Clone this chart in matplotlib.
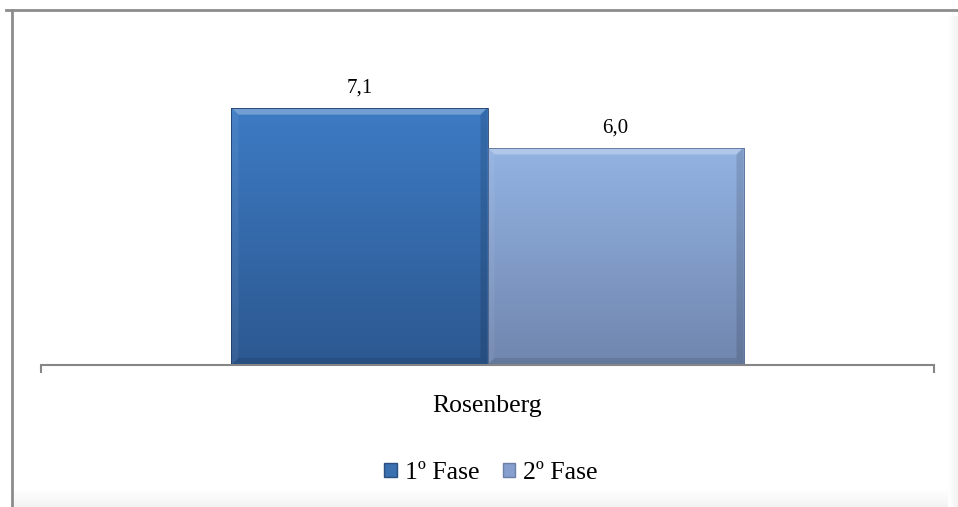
import matplotlib.pyplot as plt
import numpy as np
from matplotlib.patches import Rectangle, Polygon, Patch
from matplotlib.lines import Line2D
from matplotlib.colors import LinearSegmentedColormap

# dados
categoria = "Rosenberg"
fases = ["1º Fase", "2º Fase"]
valores = [7.1, 6.0]
rotulos = ["7,1", "6,0"]

# cores (topo, base) do gradiente de cada série
cores_topo = ["#3d7bc4", "#93b3e3"]
cores_base = ["#2c5890", "#7086ae"]
cores_legenda = ["#3a6fb0", "#859fcf"]

plt.rcParams['font.family'] = ['Liberation Serif', 'DejaVu Serif']

W, H = 958, 507
fig = plt.figure(figsize=(W / 100, H / 100), dpi=100)
fig.patch.set_facecolor("white")

# sombra à direita e em baixo: cinza com transparência crescente para a borda
ax_bg = fig.add_axes([0, 0, 1, 1], zorder=-1)
ax_bg.axis("off")
ax_bg.set_xlim(0, W)
ax_bg.set_ylim(H, 0)
alfa = np.linspace(0, 0.09, 32)
faixa_v = np.zeros((1, 32, 4))
faixa_v[..., :3] = 0.45
faixa_v[..., 3] = alfa
ax_bg.imshow(faixa_v, extent=(948, W, H, 16), aspect="auto", interpolation="bilinear")
faixa_h = np.zeros((32, 1, 4))
faixa_h[..., :3] = 0.45
faixa_h[..., 3] = alfa[:, None]
ax_bg.imshow(faixa_h, extent=(14, 948, H, 489), origin="upper", aspect="auto",
             interpolation="bilinear")
ax_bg.set_xlim(0, W)
ax_bg.set_ylim(H, 0)
# moldura: linhas superior e esquerda
ax_bg.add_line(Line2D([6, W], [10, 10], color="#8c8c8c", linewidth=2))
ax_bg.add_line(Line2D([12, 12], [10, H], color="#8c8c8c", linewidth=2))

ax = fig.add_axes([41 / W, 1 - 365 / H, 893 / W, 290 / H])
ax.set_facecolor("none")
ax.set_xlim(-0.5, 0.5)
ax.set_ylim(0, 8)

largura = 0.2867
posicoes = [-largura / 2, largura / 2]

# escala px -> dados
px_y = 8 / 290
px_x = 1 / 893

for i, (x, v) in enumerate(zip(posicoes, valores)):
    barra = ax.bar(x, v, width=largura, color=cores_topo[i], edgecolor="none", zorder=2)[0]
    cmap = LinearSegmentedColormap.from_list("g", [cores_base[i], cores_topo[i]])
    grad = np.linspace(0, 1, 256).reshape(-1, 1)
    im = ax.imshow(grad, extent=(x - largura / 2, x + largura / 2, 0, v), origin="lower",
                   cmap=cmap, aspect="auto", zorder=3)
    im.set_clip_path(barra)
    x0, x1 = x - largura / 2, x + largura / 2
    b = 7
    # chanfro superior (claro)
    ax.add_patch(Polygon([(x0, v), (x1, v), (x1 - b * px_x, v - b * px_y), (x0 + b * px_x, v - b * px_y)],
                         closed=True, facecolor="white", alpha=0.28, edgecolor="none", zorder=4))
    # chanfro inferior (escuro)
    ax.add_patch(Polygon([(x0, 0), (x1, 0), (x1 - b * px_x, b * px_y), (x0 + b * px_x, b * px_y)],
                         closed=True, facecolor="black", alpha=0.10, edgecolor="none", zorder=4))
    # chanfros laterais
    ax.add_patch(Polygon([(x0, 0), (x0 + b * px_x, b * px_y), (x0 + b * px_x, v - b * px_y), (x0, v)],
                         closed=True, facecolor="white", alpha=0.06, edgecolor="none", zorder=4))
    ax.add_patch(Polygon([(x1, 0), (x1 - b * px_x, b * px_y), (x1 - b * px_x, v - b * px_y), (x1, v)],
                         closed=True, facecolor="black", alpha=0.12, edgecolor="none", zorder=4))
    ax.add_patch(Rectangle((x0, 0), largura, v, facecolor="none",
                           edgecolor="#1f3d66" if i == 0 else "#5a6f96", linewidth=0.6, zorder=5))
    ax.annotate(rotulos[i], xy=(x, v), xytext=(0, 10.5), textcoords="offset points",
                ha="center", va="baseline", fontsize=15)

for s in ["top", "left", "right"]:
    ax.spines[s].set_visible(False)
ax.spines["bottom"].set_color("#868686")
ax.spines["bottom"].set_linewidth(1.5)
ax.spines["bottom"].set_zorder(6)
ax.set_yticks([])
ax.set_xticks([-0.5, 0.5])
ax.set_xticklabels([])
ax.tick_params(axis="x", length=6, width=1.5, color="#868686", direction="out")

ax.text(0, -47 / 290, categoria, transform=ax.get_xaxis_transform(),
        ha="center", va="baseline", fontsize=18.5)

handles = [Patch(facecolor=cores_legenda[i], edgecolor="#2c4f80" if i == 0 else "#6c7fa6",
                 label=fases[i]) for i in range(2)]
fig.legend(handles=handles, loc="center", bbox_to_anchor=(491 / W, 1 - 473 / H), ncol=2,
           frameon=False, fontsize=18.5, handlelength=0.5, handleheight=0.5,
           handletextpad=0.3, columnspacing=0.9, borderpad=0)

fig.savefig("out.png", dpi=100)
